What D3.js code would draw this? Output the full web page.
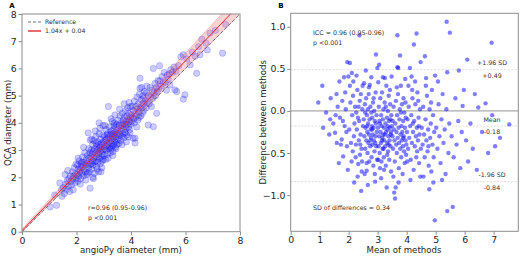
<!DOCTYPE html>
<html>
<head>
<meta charset="utf-8">
<script src="https://cdn.jsdelivr.net/npm/d3@7"></script>
<style>
body{margin:0;background:#fff;}
text{font-family:"DejaVu Sans",sans-serif;}
</style>
</head>
<body>
<div id="fig"></div>
<script>
// panel A: [angioPy, QCA] diameters (mm)
var ptsA=[[1.03,0.91],[1.27,0.97],[1.47,1.30],[1.39,1.79],[1.20,1.35],[1.45,1.55],
[1.52,1.62],[1.55,1.40],[1.58,2.10],[1.60,1.75],[1.63,1.55],[1.66,1.88],[1.70,1.67],[1.72,1.95],[1.75,1.48],[1.78,2.05],[1.80,1.85],[1.82,1.72],[1.85,2.20],[1.87,1.95],[1.88,1.54],[1.90,2.05],[1.92,2.35],[1.94,1.80],[1.96,2.12],[1.98,2.48],[1.99,1.95],[1.68,2.25],
[2.02,2.10],[2.04,2.45],[2.05,1.85],[2.07,2.30],[2.08,2.05],[2.10,2.60],[2.12,2.20],[2.13,2.27],[2.15,1.95],[2.17,2.50],[2.18,2.35],[2.20,2.15],[2.22,2.75],[2.23,2.40],[2.25,2.05],[2.27,2.55],[2.28,2.30],[2.30,2.90],[2.32,2.45],[2.33,2.20],[2.35,2.65],[2.37,2.50],[2.38,2.10],[2.40,2.80],[2.42,2.55],[2.43,3.63],[2.44,2.35],[2.45,3.05],[2.46,2.70],[2.48,2.45],[2.49,2.90],[2.50,1.60],[2.50,3.37],[2.06,2.70],[2.14,1.75],[2.26,3.10],[2.34,1.90],[2.41,2.15],[2.47,2.20],[2.20,2.55],
[2.52,2.75],[2.53,2.50],[2.54,3.00],[2.55,2.30],[2.57,2.85],[2.58,2.60],[2.59,3.20],[2.60,2.45],[2.61,2.95],[2.63,2.70],[2.64,3.35],[2.65,2.55],[2.66,2.15],[2.67,3.05],[2.68,2.80],[2.70,2.60],[2.71,3.50],[2.72,2.90],[2.73,2.40],[2.74,3.15],[2.75,2.75],[2.77,3.00],[2.78,2.55],[2.79,3.30],[2.80,2.85],[2.81,2.20],[2.82,3.05],[2.83,3.60],[2.84,2.70],[2.85,3.20],[2.86,3.80],[2.87,2.95],[2.88,2.50],[2.89,3.40],[2.90,3.00],[2.91,2.75],[2.92,3.25],[2.93,2.35],[2.94,3.10],[2.95,2.85],[2.96,3.55],[2.97,3.00],[2.98,2.65],[2.99,3.30],[2.56,3.40],[2.62,1.95],[2.69,3.70],[2.76,2.30],[2.83,4.00],[2.90,2.20],[2.97,3.90],[2.60,2.00],[2.72,3.25],[2.86,3.10],[2.94,2.60],
[3.01,3.20],[3.02,2.80],[3.03,3.50],[3.04,3.05],[3.06,3.35],[3.07,2.65],[3.08,3.15],[3.09,3.75],[3.10,3.00],[3.11,3.40],[3.12,3.25],[3.13,2.85],[3.14,3.60],[3.15,3.15],[3.17,4.60],[3.18,3.45],[3.19,3.05],[3.20,3.30],[3.21,3.85],[3.22,3.10],[3.23,3.55],[3.24,2.90],[3.25,3.40],[3.26,3.70],[3.27,3.25],[3.28,3.05],[3.29,3.60],[3.30,3.35],[3.31,4.05],[3.32,3.15],[3.33,3.50],[3.34,2.95],[3.35,3.75],[3.36,3.45],[3.37,3.20],[3.38,3.90],[3.39,3.55],[3.40,3.30],[3.41,4.29],[3.42,3.65],[3.43,3.10],[3.44,3.50],[3.45,3.85],[3.46,3.35],[3.47,3.95],[3.48,3.60],[3.49,3.20],[3.05,3.90],[3.16,2.70],[3.27,4.15],[3.33,2.80],[3.39,4.00],[3.45,3.05],[3.12,3.55],[3.36,3.60],
[3.51,3.75],[3.52,3.40],[3.53,4.10],[3.55,3.60],[3.56,3.25],[3.57,3.90],[3.59,3.55],[3.60,4.25],[3.61,3.70],[3.62,3.35],[3.64,4.00],[3.65,3.80],[3.66,3.50],[3.68,4.35],[3.69,3.90],[3.70,3.60],[3.72,4.10],[3.73,3.75],[3.74,3.45],[3.76,4.20],[3.77,3.95],[3.78,3.65],[3.80,4.45],[3.81,4.05],[3.82,3.80],[3.84,3.55],[3.85,4.25],[3.86,3.95],[3.88,4.55],[3.89,4.10],[3.90,3.49],[3.91,3.85],[3.92,4.35],[3.94,4.05],[3.95,3.75],[3.96,3.63],[3.97,4.20],[3.98,4.60],[3.99,3.95],[3.58,4.50],[3.67,3.20],[3.75,4.70],[3.83,3.30],[3.93,4.75],[3.71,3.95],
[4.01,4.30],[4.02,4.05],[4.04,4.60],[4.06,4.20],[4.08,3.43],[4.09,4.45],[4.11,4.15],[4.13,4.80],[4.15,3.44],[4.15,3.26],[4.16,4.35],[4.18,4.60],[4.20,4.25],[4.22,4.95],[4.24,4.50],[4.25,4.10],[4.27,4.70],[4.29,4.40],[4.31,5.05],[4.33,5.64],[4.33,5.27],[4.34,4.55],[4.36,4.25],[4.38,4.85],[4.39,5.30],[4.40,4.60],[4.42,4.35],[4.44,5.00],[4.45,4.70],[4.47,4.45],[4.49,5.15],[4.12,4.00],[4.21,3.85],[4.30,4.20],[4.46,4.90],
[4.52,4.80],[4.55,4.55],[4.57,5.10],[4.60,4.75],[4.63,3.92],[4.64,5.00],[4.67,4.70],[4.70,5.30],[4.72,4.95],[4.75,4.60],[4.78,5.20],[4.80,4.90],[4.82,6.00],[4.82,3.86],[4.85,5.10],[4.88,5.45],[4.90,5.00],[4.93,5.30],[4.94,4.35],[4.96,5.15],[4.99,5.55],[4.58,5.35],
[5.02,5.25],[5.06,5.55],[5.10,5.35],[5.14,5.70],[5.18,5.45],[5.22,5.85],[5.26,5.50],[5.30,5.20],[5.33,5.75],[5.37,5.60],[5.43,5.39],[5.46,5.95],[5.05,6.10],[5.40,5.80],
[5.52,5.85],[5.58,6.05],[5.61,5.21],[5.65,5.90],[5.68,5.15],[5.75,6.10],[5.83,6.43],[5.92,6.50],[5.92,4.87],[5.98,5.03],
[6.05,6.35],[6.17,6.13],[6.25,6.60],[6.35,6.45],[6.41,5.82],[6.48,6.80],
[6.53,6.50],[6.60,7.07],[6.75,6.93],[6.80,6.68],[6.90,7.30],[7.10,7.40],[7.36,6.56],[7.47,7.62]];

// panel B: [mean of methods, difference]
var ptsB=[[0.95,0.10],[1.09,0.30],[1.22,-0.02],[1.36,-0.10],[1.38,0.15],[1.47,-0.15],[1.33,-0.28],[1.12,-0.20],
[1.53,-0.26],[1.59,-0.38],[1.76,-0.34],[1.81,-0.54],[1.68,0.35],[1.84,0.40],[1.99,0.41],[1.95,0.58],[1.73,-0.40],[1.62,0.05],[1.70,-0.08],[1.78,0.12],[1.86,-0.18],[1.90,0.02],[1.92,-0.25],[1.55,-0.05],[1.66,-0.62],[1.97,-0.70],[1.88,0.22],[1.80,-0.12],[1.94,-0.42],[1.58,0.20],
[2.04,0.57],[2.04,0.30],[2.37,0.90],[2.10,-0.60],[2.39,-0.52],[2.33,-0.63],[2.45,-0.72],[2.06,0.10],[2.12,-0.05],[2.15,0.18],[2.18,-0.30],[2.20,-0.15],[2.22,0.05],[2.25,-0.40],[2.28,-0.22],[2.30,0.25],[2.32,-0.08],[2.35,-0.35],[2.38,0.12],[2.41,-0.28],[2.44,-0.45],[2.47,0.02],[2.49,-0.18],[2.08,-0.38],[2.14,-0.48],[2.16,0.35],[2.24,-0.55],[2.27,0.42],[2.31,-0.78],[2.36,-0.12],[2.42,0.20],[2.46,-0.60],[2.02,-0.22],[2.19,-0.85],[2.26,-0.02],[2.34,0.05],[2.40,-0.40],[2.48,0.30],[2.11,0.45],[2.43,-0.95],
[2.53,0.33],[2.73,0.31],[2.62,-0.62],[2.62,-0.71],[2.91,-0.84],[2.94,0.67],[2.99,0.51],[2.52,-0.10],[2.54,-0.30],[2.56,0.08],[2.57,-0.45],[2.58,-0.20],[2.60,0.15],[2.61,-0.35],[2.63,-0.05],[2.64,-0.25],[2.65,-0.50],[2.66,0.02],[2.67,-0.15],[2.68,-0.38],[2.69,0.20],[2.70,-0.28],[2.71,-0.60],[2.72,-0.10],[2.74,-0.42],[2.75,0.05],[2.76,-0.22],[2.77,-0.32],[2.78,0.40],[2.79,-0.55],[2.80,-0.18],[2.81,-0.08],[2.82,-0.40],[2.83,-0.28],[2.84,0.10],[2.85,-0.65],[2.86,-0.20],[2.87,-0.35],[2.88,0.00],[2.89,-0.48],[2.90,-0.12],[2.92,-0.30],[2.93,0.22],[2.95,-0.42],[2.96,-0.05],[2.97,-0.25],[2.98,-0.58],[2.55,-0.75],[2.59,0.48],[2.66,-0.88],[2.70,0.28],[2.75,-0.35],[2.81,-0.22],[2.86,0.15],[2.90,-0.75],[2.94,-0.15],[2.57,-0.02],[2.64,-0.18],[2.78,-0.02],[2.92,-0.38],
[3.02,0.34],[3.08,-0.68],[3.25,0.39],[3.48,0.41],[3.31,-0.91],[3.01,-0.20],[3.03,-0.42],[3.04,0.05],[3.05,-0.30],[3.06,-0.12],[3.07,-0.50],[3.09,0.15],[3.10,-0.25],[3.11,-0.38],[3.12,-0.05],[3.13,-0.60],[3.14,-0.18],[3.15,0.22],[3.16,-0.32],[3.17,-0.45],[3.18,-0.10],[3.19,-0.28],[3.20,0.02],[3.21,-0.55],[3.22,-0.20],[3.23,-0.35],[3.24,0.10],[3.26,-0.42],[3.27,-0.15],[3.28,-0.65],[3.29,-0.25],[3.30,0.30],[3.32,-0.08],[3.33,-0.38],[3.34,-0.22],[3.35,0.00],[3.36,-0.48],[3.37,-0.30],[3.38,0.18],[3.39,-0.12],[3.40,-0.58],[3.41,-0.35],[3.42,-0.20],[3.43,0.08],[3.44,-0.42],[3.45,-0.28],[3.46,-0.72],[3.47,-0.05],[3.49,-0.18],[3.05,0.55],[3.12,-0.80],[3.18,0.40],[3.22,-0.70],[3.28,0.05],[3.33,-0.52],[3.38,-0.40],[3.42,0.25],[3.46,-0.25],[3.08,-0.15],[3.15,-0.35],[3.25,-0.28],[3.35,-0.18],[3.44,-0.10],[3.02,-0.58],[3.20,-0.45],
[3.68,0.90],[3.77,0.66],[3.68,0.52],[3.71,0.51],[3.57,-0.97],[3.60,-1.04],[3.62,-0.91],[3.51,-0.30],[3.52,-0.12],[3.53,-0.45],[3.55,0.05],[3.56,-0.22],[3.58,-0.35],[3.59,-0.60],[3.61,-0.15],[3.63,0.12],[3.64,-0.40],[3.65,-0.25],[3.66,-0.50],[3.67,-0.05],[3.69,-0.32],[3.70,0.20],[3.72,-0.20],[3.73,-0.68],[3.74,-0.38],[3.75,-0.10],[3.76,0.02],[3.78,-0.45],[3.79,-0.28],[3.80,0.30],[3.81,-0.55],[3.82,-0.18],[3.83,-0.35],[3.84,0.08],[3.85,-0.25],[3.86,-0.75],[3.87,-0.42],[3.88,-0.12],[3.89,0.15],[3.90,-0.30],[3.91,-0.48],[3.92,-0.02],[3.93,-0.62],[3.94,-0.20],[3.95,0.38],[3.96,-0.35],[3.97,-0.08],[3.98,-0.52],[3.99,-0.40],[3.54,-0.78],[3.66,0.28],[3.72,-0.85],[3.80,-0.02],[3.88,-0.32],[3.96,0.10],
[4.34,0.92],[4.25,0.79],[4.11,0.51],[4.17,0.41],[4.48,0.58],[4.01,-0.25],[4.03,-0.10],[4.05,-0.45],[4.07,0.05],[4.09,-0.32],[4.12,-0.18],[4.14,-0.58],[4.16,-0.05],[4.18,-0.38],[4.20,0.15],[4.22,-0.25],[4.24,-0.70],[4.26,-0.12],[4.28,-0.42],[4.30,0.08],[4.32,-0.30],[4.33,-0.55],[4.35,-0.20],[4.37,0.22],[4.39,-0.35],[4.41,-0.08],[4.43,-0.62],[4.44,-0.28],[4.46,0.02],[4.49,-0.45],[4.06,0.30],[4.13,-0.82],[4.21,-0.15],[4.29,0.35],[4.36,-0.48],[4.42,-0.18],[4.47,-0.78],[4.02,-0.60],[4.19,0.25],[4.40,0.12],
[4.63,0.65],[4.67,0.39],[4.98,0.42],[4.78,-0.93],[4.97,-1.30],[4.52,-0.20],[4.55,-0.40],[4.57,0.05],[4.60,-0.28],[4.62,-0.55],[4.65,-0.10],[4.68,-0.35],[4.70,0.18],[4.72,-0.48],[4.74,-0.22],[4.76,-0.65],[4.79,0.02],[4.81,-0.32],[4.83,-0.15],[4.85,-0.72],[4.87,0.25],[4.89,-0.40],[4.91,-0.05],[4.93,-0.55],[4.95,-0.25],[4.58,-0.78],[4.66,0.30],[4.75,-0.42],[4.84,0.10],[4.92,-0.85],
[5.38,1.06],[5.40,0.46],[5.40,-1.19],[5.02,-0.20],[5.06,-0.45],[5.10,0.08],[5.13,-0.30],[5.17,-0.62],[5.20,-0.10],[5.24,0.20],[5.27,-0.38],[5.31,-0.22],[5.34,-0.75],[5.37,0.02],[5.44,-0.50],[5.47,-0.15],[5.08,0.35],[5.22,-0.82],
[5.49,0.93],[5.59,-1.14],[5.80,0.48],[5.93,0.06],[5.55,-0.30],[5.62,-0.55],[5.68,0.15],[5.72,-0.40],[5.78,-0.12],[5.85,-0.68],[5.90,-0.25],[5.97,0.25],
[6.09,0.61],[6.47,0.04],[6.05,-0.35],[6.12,-0.60],[6.20,-0.15],[6.28,-0.45],[6.35,0.20],[6.42,-0.70],
[6.72,0.09],[6.93,0.81],[6.81,-0.50],[7.22,-0.32],[7.54,-0.16],[6.60,-0.25],[6.95,-0.05],[7.05,-0.42]];

var ticksAx=[0,2,4,6,8],ticksAy=[0,1,2,3,4,5,6,7,8];
var ticksBx=[0,1,2,3,4,5,6,7],ticksBy=[-1.0,-0.5,0.0,0.5,1.0];
var refX=[0,8];
var fitSlope=1.04,fitIntercept=0.04;
var bandX=[0,8],bandLo=[-0.02,8.0],bandHi=[0.10,8.72];
var baLines=[{v:0.49,top:"+1.96 SD",bot:"+0.49"},{v:-0.18,top:"Mean",bot:"-0.18"},{v:-0.84,top:"-1.96 SD",bot:"-0.84"}];

var W=520,H=258;
var svg=d3.select("#fig").append("svg:svg").attr("width",W).attr("height",H);
var defs=svg.append("defs");

var xA=d3.scaleLinear().domain([0,8]).range([22,240]),
    yA=d3.scaleLinear().domain([0,8]).range([231.7,14]);
var xB=d3.scaleLinear().domain([0,7.85]).range([290.7,518.3]),
    yB=d3.scaleLinear().domain([-1.43,1.16]).range([231.3,13.3]);

defs.append("clipPath").attr("id","clipA").append("rect")
    .attr("x",xA(0)).attr("y",yA(8)).attr("width",xA(8)-xA(0)).attr("height",yA(0)-yA(8));
defs.append("clipPath").attr("id","clipB").append("rect")
    .attr("x",xB(0)).attr("y",yB(1.16)).attr("width",xB(7.85)-xB(0)).attr("height",yB(-1.43)-yB(1.16));

function styleAxis(g){
  g.select(".domain").remove();
  g.selectAll(".tick line").attr("stroke","#8c8c8c");
  g.selectAll(".tick text").attr("fill","#262626").style("font-size","9.4px");
}
var minus=function(d){return d3.format(".1f")(d).replace("-","\u2212");};

// ---------- panel A ----------
var pa=svg.append("svg:g");
pa.append("svg:g").attr("transform","translate(0,"+yA(0)+")")
  .call(d3.axisBottom(xA).tickValues(ticksAx).tickSize(3.5).tickPadding(2).tickFormat(d3.format("d")))
  .call(styleAxis);
pa.append("svg:g").attr("transform","translate("+xA(0)+",0)")
  .call(d3.axisLeft(yA).tickValues(ticksAy).tickSize(3.5).tickPadding(1.8).tickFormat(d3.format("d")))
  .call(styleAxis);

var plotA=pa.append("svg:g").attr("clip-path","url(#clipA)");
plotA.selectAll("circle.a").data(ptsA).enter().append("circle").attr("class","a")
  .attr("cx",function(d){return xA(d[0]);}).attr("cy",function(d){return yA(d[1]);})
  .attr("r",3.2).attr("fill","#0000ff").attr("fill-opacity",0.2)
  .attr("stroke","#0000ff").attr("stroke-opacity",0.25).attr("stroke-width",0.7);
// band + lines drawn over the points
var band=d3.area().x(function(d,i){return xA(bandX[i]);})
  .y0(function(d,i){return yA(bandLo[i]);}).y1(function(d,i){return yA(bandHi[i]);});
plotA.append("path").datum(bandX).attr("d",band)
  .attr("fill","#f07070").attr("fill-opacity",0.3)
  .attr("stroke","#e06060").attr("stroke-opacity",0.5).attr("stroke-width",0.6);
var line=d3.line().x(function(d){return xA(d[0]);}).y(function(d){return yA(d[1]);});
plotA.append("path").datum(refX.map(function(x){return [x,x];})).attr("d",line)
  .attr("fill","none").attr("stroke","#707070").attr("stroke-width",1).attr("stroke-dasharray","3.5,2");
plotA.append("path").datum(refX.map(function(x){return [x,fitSlope*x+fitIntercept];})).attr("d",line)
  .attr("fill","none").attr("stroke","#e0282a").attr("stroke-width",1);

pa.append("rect").attr("x",xA(0)).attr("y",yA(8)).attr("width",xA(8)-xA(0)).attr("height",yA(0)-yA(8))
  .attr("fill","none").attr("stroke","#8c8c8c").attr("stroke-width",1);

// legend
var leg=pa.append("svg:g").attr("transform","translate(28,0)");
leg.append("line").attr("x1",0).attr("x2",13).attr("y1",22).attr("y2",22)
  .attr("stroke","#707070").attr("stroke-dasharray","3,2");
leg.append("line").attr("x1",0).attr("x2",13).attr("y1",31).attr("y2",31)
  .attr("stroke","#e86a6a").attr("stroke-width",2);
leg.append("text").attr("x",17).attr("y",24.2).text("Reference").style("font-size","6.2px").attr("fill","#333");
leg.append("text").attr("x",17).attr("y",33.2).text(fitSlope.toFixed(2)+"x + "+fitIntercept.toFixed(2)).style("font-size","6.2px").attr("fill","#333");

pa.append("text").attr("x",88).attr("y",210).text("r=0.96 (0.95-0.96)").style("font-size","6.3px").attr("fill","#333");
pa.append("text").attr("x",88).attr("y",220).text("p <0.001").style("font-size","6.3px").attr("fill","#333");

pa.append("text").attr("x",131).attr("y",253).attr("text-anchor","middle")
  .text("angioPy diameter (mm)").style("font-size","8.6px").attr("fill","#262626");
pa.append("text").attr("transform","translate(10.5,"+(yA(4))+") rotate(-90)").attr("text-anchor","middle")
  .text("QCA diameter (mm)").style("font-size","8.6px").attr("fill","#262626");
pa.append("text").attr("x",12).attr("y",8).attr("text-anchor","middle").text("A")
  .style("font-size","7px").style("font-weight","bold");

// ---------- panel B ----------
var pb=svg.append("svg:g");
pb.append("svg:g").attr("transform","translate(0,"+yB(-1.43)+")")
  .call(d3.axisBottom(xB).tickValues(ticksBx).tickSize(3.5).tickPadding(2).tickFormat(d3.format("d")))
  .call(styleAxis);
pb.append("svg:g").attr("transform","translate("+xB(0)+",0)")
  .call(d3.axisLeft(yB).tickValues(ticksBy).tickSize(3.5).tickPadding(1.8).tickFormat(minus))
  .call(styleAxis);

var plotB=pb.append("svg:g").attr("clip-path","url(#clipB)");
plotB.append("line").attr("x1",xB(0)).attr("x2",xB(7.85)).attr("y1",yB(0)).attr("y2",yB(0))
  .attr("stroke","#a8a8a8").attr("stroke-width",1.3);
plotB.selectAll("line.lim").data(baLines).enter().append("line").attr("class","lim")
  .attr("x1",xB(0)).attr("x2",xB(7.85))
  .attr("y1",function(d){return yB(d.v);}).attr("y2",function(d){return yB(d.v);})
  .attr("stroke","#d4d4d4").attr("stroke-width",0.8).attr("stroke-dasharray","2,1.5");
plotB.selectAll("circle.b").data(ptsB).enter().append("circle").attr("class","b")
  .attr("cx",function(d){return xB(d[0]);}).attr("cy",function(d){return yB(d[1]);})
  .attr("r",2.2).attr("fill","#0000ff").attr("fill-opacity",0.5);

pb.append("rect").attr("x",xB(0)).attr("y",yB(1.16)).attr("width",xB(7.85)-xB(0)).attr("height",yB(-1.43)-yB(1.16))
  .attr("fill","none").attr("stroke","#8c8c8c").attr("stroke-width",1);

var lbl=pb.selectAll("g.lbl").data(baLines).enter().append("svg:g").attr("class","lbl");
lbl.append("text").attr("x",492).attr("y",function(d){return yB(d.v)-4.5;}).attr("text-anchor","middle")
  .text(function(d){return d.top;}).style("font-size","6.3px").attr("fill","#333");
lbl.append("text").attr("x",492).attr("y",function(d){return yB(d.v)+8;}).attr("text-anchor","middle")
  .text(function(d){return d.bot;}).style("font-size","6.3px").attr("fill","#333");

pb.append("text").attr("x",313).attr("y",35).text("ICC = 0.96 (0.95-0.96)").style("font-size","6.3px").attr("fill","#333");
pb.append("text").attr("x",313).attr("y",45).text("p <0.001").style("font-size","6.3px").attr("fill","#333");
pb.append("text").attr("x",313).attr("y",210).text("SD of differences = 0.34").style("font-size","6.3px").attr("fill","#333");

pb.append("text").attr("x",404).attr("y",253).attr("text-anchor","middle")
  .text("Mean of methods").style("font-size","8.6px").attr("fill","#262626");
pb.append("text").attr("transform","translate(265.5,"+((yB(1.16)+yB(-1.43))/2)+") rotate(-90)").attr("text-anchor","middle")
  .text("Difference between methods").style("font-size","8.6px").attr("fill","#262626");
pb.append("text").attr("x",281).attr("y",8).attr("text-anchor","middle").text("B")
  .style("font-size","7px").style("font-weight","bold");
</script>
</body>
</html>
